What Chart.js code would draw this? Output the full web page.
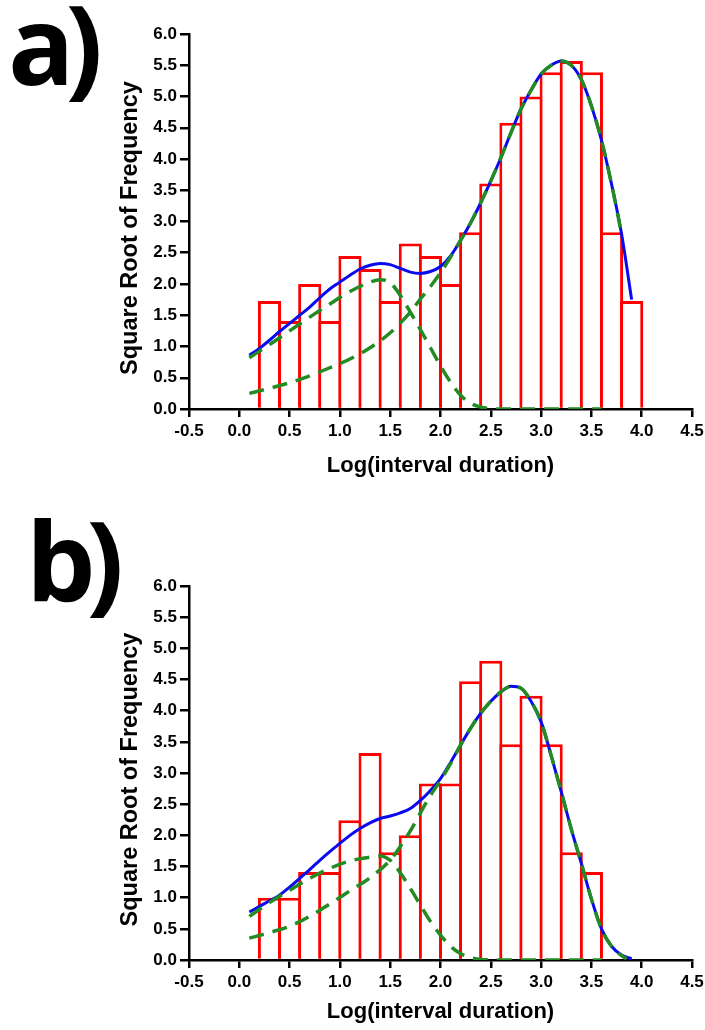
<!DOCTYPE html>
<html>
<head>
<meta charset="utf-8">
<script src="https://cdn.jsdelivr.net/npm/chart.js@4"></script>
<style>
  body { margin: 0; background: #fff; width: 705px; height: 1030px; position: relative; overflow: hidden; }
  canvas { position: absolute; left: 0; }
  #grafA { top: 0; }
  #grafB { top: 540px; }
  .letra { position: absolute; font-family: 'Open Sans', sans-serif; font-weight: 700; font-size: 110px; line-height: 110px; letter-spacing: -9px; color: #000; }
</style>
</head>
<body>
<canvas id="grafA" width="705" height="500"></canvas>
<canvas id="grafB" width="705" height="490"></canvas>
<div class="letra" style="left:8px; top:-13px">a)</div>
<div class="letra" style="left:26px; top:503px">b)</div>
<script>
// histogram bins (centre of each 0.2 wide bin) and bar heights
const binsA = [0.3, 0.5, 0.7, 0.9, 1.1, 1.3, 1.5, 1.7, 1.9, 2.1, 2.3, 2.5, 2.7, 2.9, 3.1, 3.3, 3.5, 3.7, 3.9];
const alturasA = [1.73, 1.41, 2.00, 1.41, 2.45, 2.24, 1.73, 2.65, 2.45, 2.00, 2.83, 3.61, 4.58, 5.00, 5.39, 5.57, 5.39, 2.83, 1.73];
const binsB = [0.3, 0.5, 0.7, 0.9, 1.1, 1.3, 1.5, 1.7, 1.9, 2.1, 2.3, 2.5, 2.7, 2.9, 3.1, 3.3, 3.5];
const alturasB = [1.00, 1.00, 1.41, 1.41, 2.24, 3.32, 1.73, 2.00, 2.83, 2.83, 4.47, 4.80, 3.46, 4.24, 3.46, 1.73, 1.41];

// fitted total curve (blue)
const curvaX = [0.1, 0.2, 0.3, 0.4, 0.5, 0.6, 0.7, 0.8, 0.9, 1.0, 1.1, 1.2, 1.3, 1.4, 1.5, 1.6, 1.7, 1.8, 1.9, 2.0,
  2.1, 2.2, 2.3, 2.4, 2.5, 2.6, 2.7, 2.8, 2.9, 3.0, 3.1, 3.2, 3.3, 3.4, 3.5, 3.6, 3.7, 3.8, 3.9];
const totalA = [0.86, 0.97, 1.10, 1.24, 1.37, 1.50, 1.63, 1.78, 1.92, 2.03, 2.14, 2.24, 2.30, 2.33, 2.31, 2.25, 2.19, 2.17, 2.20, 2.28,
  2.45, 2.70, 2.98, 3.30, 3.65, 4.02, 4.42, 4.80, 5.10, 5.36, 5.50, 5.57, 5.50, 5.27, 4.85, 4.30, 3.60, 2.80, 1.75];
const totalB = [0.77, 0.86, 0.95, 1.04, 1.17, 1.31, 1.45, 1.60, 1.74, 1.87, 2.00, 2.11, 2.20, 2.27, 2.31, 2.36, 2.43, 2.56, 2.72, 2.91,
  3.17, 3.45, 3.72, 3.96, 4.15, 4.30, 4.39, 4.36, 4.15, 3.82, 3.28, 2.70, 2.10, 1.55, 0.98, 0.50, 0.22, 0.08, 0.02];

// components (green dashed)
const comp1X = [0.1, 0.3, 0.5, 0.7, 0.9, 1.1, 1.3, 1.4, 1.5, 1.6, 1.7, 1.8, 1.9, 2.0, 2.1, 2.2, 2.3, 2.4, 2.6, 2.8, 3.0, 3.2, 3.4, 3.6];
const comp1A = [0.82, 1.03, 1.25, 1.47, 1.68, 1.88, 2.03, 2.07, 2.02, 1.82, 1.55, 1.27, 0.98, 0.69, 0.43, 0.22, 0.09, 0.03, 0, 0, 0, 0, 0, 0];
const comp1B = [0.70, 0.92, 1.12, 1.31, 1.47, 1.59, 1.65, 1.67, 1.60, 1.40, 1.15, 0.88, 0.62, 0.40, 0.22, 0.10, 0.04, 0.01, 0, 0, 0, 0, 0, 0];

const comp2XA = [0.1, 0.3, 0.5, 0.7, 0.9, 1.1, 1.3, 1.5, 1.7, 1.8, 1.9, 2.0, 2.1, 2.2, 2.3, 2.4, 2.5, 2.6, 2.7, 2.8, 2.9,
  3.0, 3.1, 3.2, 3.3, 3.4, 3.5, 3.6, 3.7, 3.8];
const comp2A = [0.25, 0.33, 0.42, 0.53, 0.66, 0.80, 0.98, 1.22, 1.55, 1.76, 1.96, 2.18, 2.43, 2.70, 2.98, 3.30, 3.65, 4.02, 4.42, 4.80, 5.10,
  5.36, 5.50, 5.57, 5.50, 5.27, 4.85, 4.30, 3.60, 2.80];
const comp2XB = [0.1, 0.3, 0.5, 0.7, 0.9, 1.1, 1.3, 1.5, 1.6, 1.7, 1.8, 1.9, 2.0, 2.1, 2.2, 2.3, 2.4, 2.5, 2.6, 2.7, 2.8, 2.9,
  3.0, 3.1, 3.2, 3.3, 3.4, 3.5, 3.6, 3.7, 3.8, 3.85];
const comp2B = [0.35, 0.44, 0.54, 0.70, 0.90, 1.11, 1.32, 1.60, 1.82, 2.07, 2.36, 2.64, 2.88, 3.15, 3.45, 3.72, 3.96, 4.15, 4.30, 4.39, 4.36, 4.15,
  3.82, 3.28, 2.70, 2.10, 1.55, 0.98, 0.50, 0.22, 0.07, 0.02];

Chart.defaults.font.family = "'Liberation Sans', Arial, sans-serif";
Chart.defaults.color = "#000";

function pares(xs, ys) {
  return xs.map((x, i) => ({ x: x, y: ys[i] }));
}

function tracejado(xs, ys, ordem) {
  return {
    type: "line",
    data: pares(xs, ys),
    borderColor: "#228b22",
    borderWidth: 3.5,
    borderDash: [15, 9],
    pointRadius: 0,
    cubicInterpolationMode: "monotone",
    order: ordem,
  };
}

function histograma(id, bins, alturas, total, c1, c2x, c2, padTopo, padBaixo, alturaX, padTitulo) {
  return new Chart(document.getElementById(id), {
    type: "bar",
    data: {
      datasets: [
        tracejado(comp1X, c1, 0),
        tracejado(c2x, c2, 1),
        {
          type: "line",
          data: pares(curvaX, total),
          borderColor: "#0a0aee",
          borderWidth: 3,
          pointRadius: 0,
          cubicInterpolationMode: "monotone",
          order: 2,
        },
        {
          type: "bar",
          data: pares(bins, alturas),
          backgroundColor: "#fff",
          borderColor: "#ff0000",
          borderWidth: 3,
          barPercentage: 1.15,
          categoryPercentage: 1,
          order: 3,
        },
      ],
    },
    options: {
      responsive: false,
      animation: false,
      events: [],
      layout: { padding: { left: 100, right: 0, top: padTopo, bottom: padBaixo } },
      plugins: { legend: { display: false }, tooltip: { enabled: false } },
      scales: {
        x: {
          type: "linear",
          min: -0.5,
          max: 4.5,
          offset: false,
          ticks: {
            stepSize: 0.5,
            padding: 4,
            autoSkip: false,
            maxRotation: 0,
            font: { size: 17, weight: "bold" },
            callback: (v) => Number(v).toFixed(1),
          },
          grid: { offset: false, drawOnChartArea: false, tickLength: 8, color: "#000", lineWidth: 2.5 },
          border: { color: "#000", width: 2.5 },
          title: {
            display: true,
            text: "Log(interval duration)",
            font: { size: 22, weight: "bold" },
            padding: { top: 0, bottom: padTitulo },
          },
          afterFit: (s) => { s.height = alturaX; s.paddingLeft = 0; s.paddingRight = 13; },
        },
        y: {
          min: 0,
          max: 6,
          ticks: {
            stepSize: 0.5,
            padding: 3,
            font: { size: 17, weight: "bold" },
            callback: (v) => Number(v).toFixed(1),
          },
          grid: { drawOnChartArea: false, tickLength: 9, color: "#000", lineWidth: 2.5 },
          border: { color: "#000", width: 2.5 },
          title: {
            display: true,
            text: "Square Root of Frequency  ",
            font: { size: 23.5, weight: "bold" },
            padding: { top: 16, bottom: 0 },
          },
          afterFit: (s) => { s.width = 89; s.paddingTop = 0; s.paddingBottom = 0; },
        },
      },
    },
  });
}

histograma("grafA", binsA, alturasA, totalA, comp1A, comp2XA, comp2A, 34, 11, 80, 10);
histograma("grafB", binsB, alturasB, totalB, comp1B, comp2XB, comp2B, 46, 0, 70, 5);
</script>
</body>
</html>
